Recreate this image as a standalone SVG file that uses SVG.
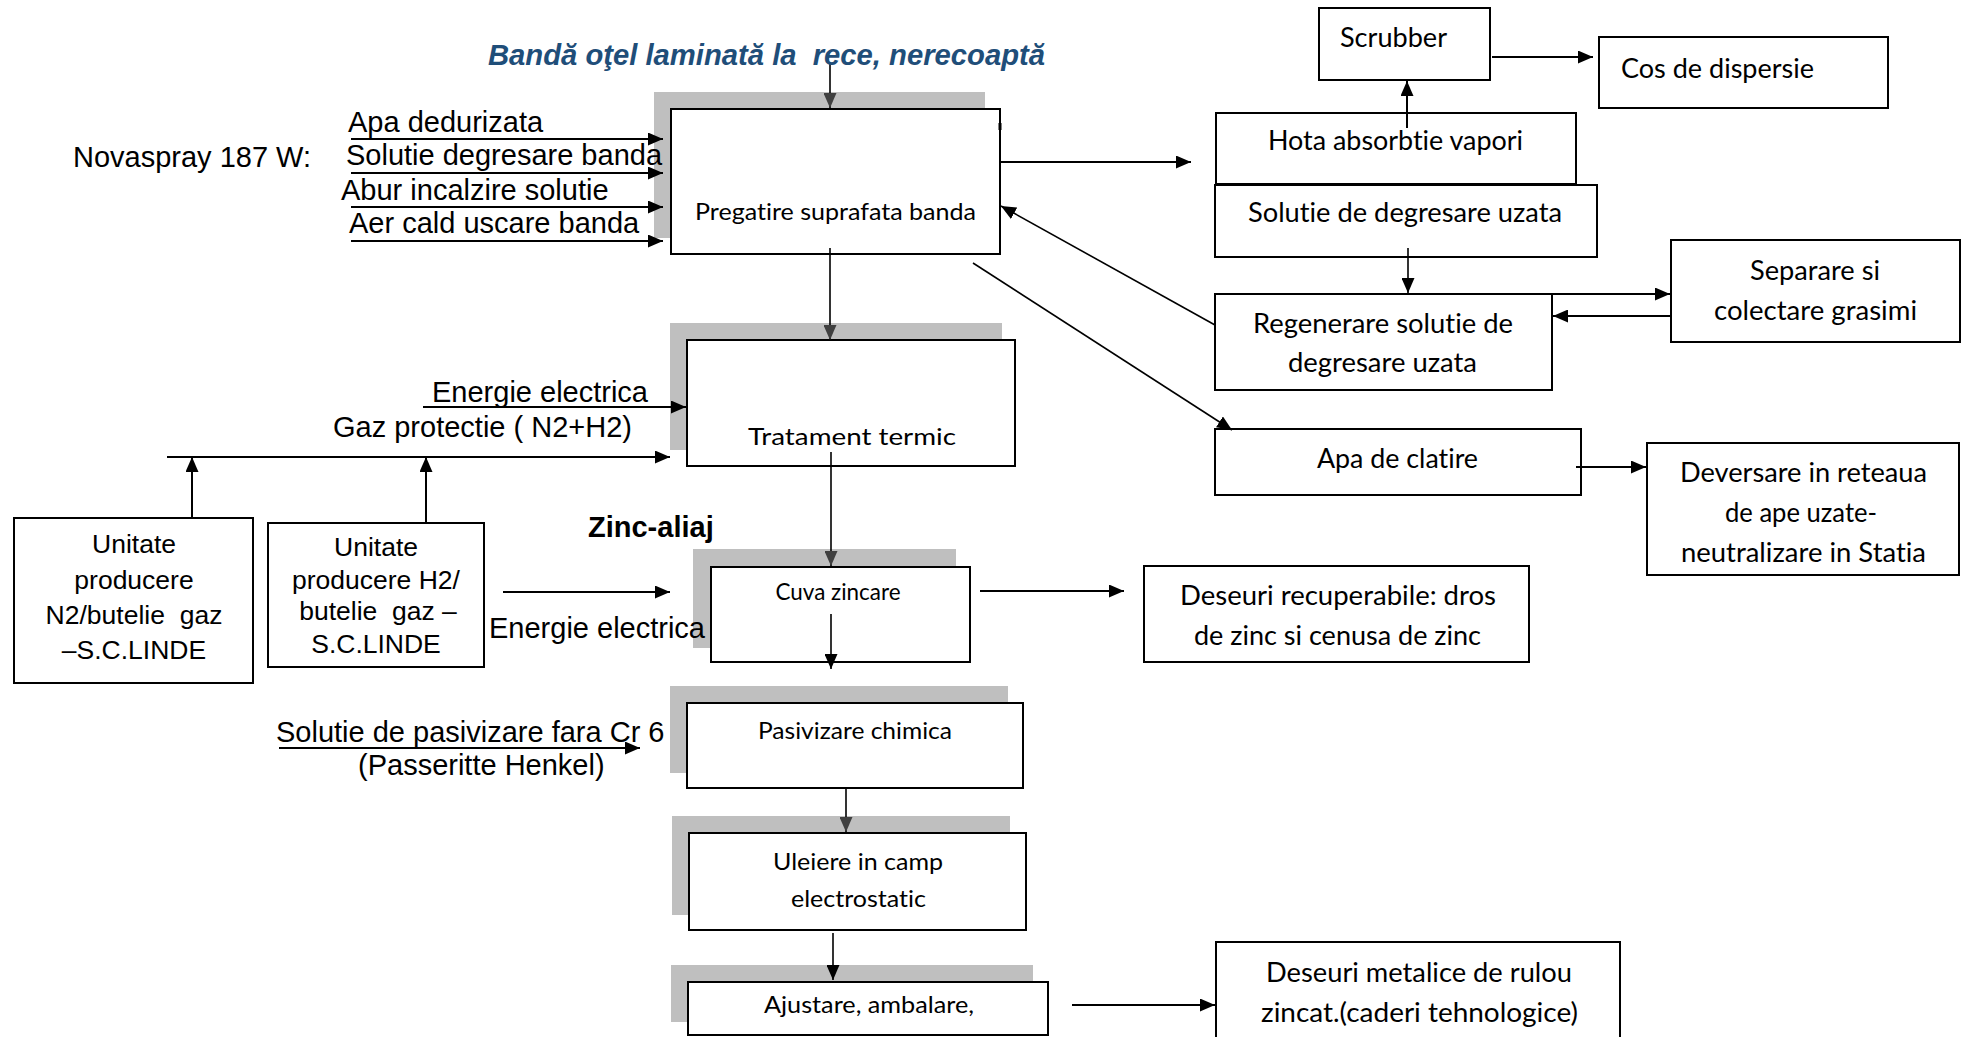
<svg xmlns="http://www.w3.org/2000/svg" width="1968" height="1037" viewBox="0 0 1968 1037">
<style>
  .bg{fill:#ffffff}
  .box{fill:#ffffff;stroke:#000;stroke-width:2}
  .sh{fill:#bfbfbf;stroke:none}
  .ar{font-family:"Liberation Sans",Arial,sans-serif;font-size:29px;fill:#000;white-space:pre}
  .un{font-family:"Liberation Sans",Arial,sans-serif;font-size:26.5px;fill:#000;text-anchor:middle;white-space:pre}
  .cl{font-family:Lato,"Open Sans",sans-serif;font-size:26px;fill:#000;text-anchor:middle;white-space:pre;font-variant-ligatures:none}
  .cs{font-family:Lato,"Open Sans",sans-serif;font-size:24px;fill:#000;text-anchor:middle;white-space:pre;font-variant-ligatures:none}
  .ln{fill:none;stroke:#000;stroke-width:2}
  .pl{fill:none;stroke:#000;stroke-width:1.6}
</style>
<defs>
  <marker id="ah" viewBox="0 0 15 13" refX="15" refY="6.5" markerWidth="15" markerHeight="13" markerUnits="userSpaceOnUse" orient="auto">
    <path d="M0,0 L15,6.5 L0,13 Z" fill="#000"/>
  </marker>
  <marker id="ag" viewBox="0 0 15 13" refX="15" refY="6.5" markerWidth="15" markerHeight="13" markerUnits="userSpaceOnUse" orient="auto">
    <path d="M0,0 L15,6.5 L0,13 Z" fill="#404040"/>
  </marker>
</defs>
<rect class="bg" x="0" y="0" width="1968" height="1037"/>

<!-- process chain -->
<g id="n-pregatire">
  <rect class="sh" x="654" y="92" width="331" height="146"/>
  <rect class="box" x="671" y="109" width="329" height="145"/>
  <line x1="1000" y1="123" x2="1000" y2="130" stroke="#000" stroke-width="3"/>
  <text class="cs" x="835.5" y="220" textLength="281" lengthAdjust="spacingAndGlyphs">Pregatire suprafata banda</text>
</g>
<g id="n-tratament">
  <rect class="sh" x="670" y="323" width="332" height="127"/>
  <rect class="box" x="687" y="340" width="328" height="126"/>
  <text class="cs" x="852" y="445" textLength="208" lengthAdjust="spacingAndGlyphs">Tratament termic</text>
</g>
<g id="n-cuva">
  <rect class="sh" x="693" y="549" width="263" height="99"/>
  <rect class="box" x="711" y="567" width="259" height="95"/>
  <text class="cs" x="838" y="600" textLength="125" lengthAdjust="spacingAndGlyphs">Cuva zincare</text>
</g>
<g id="n-pasivizare">
  <rect class="sh" x="670" y="686" width="338" height="87"/>
  <rect class="box" x="687" y="703" width="336" height="85"/>
  <text class="cs" x="855" y="739" textLength="194" lengthAdjust="spacingAndGlyphs">Pasivizare chimica</text>
</g>
<g id="n-uleiere">
  <rect class="sh" x="672" y="816" width="338" height="99"/>
  <rect class="box" x="689" y="833" width="337" height="97"/>
  <text class="cs" x="858" y="870" textLength="170" lengthAdjust="spacingAndGlyphs">Uleiere in camp</text>
  <text class="cs" x="858.5" y="907" textLength="135" lengthAdjust="spacingAndGlyphs">electrostatic</text>
</g>
<g id="n-ajustare">
  <rect class="sh" x="671" y="965" width="362" height="57"/>
  <rect class="box" x="688" y="982" width="360" height="53"/>
  <text class="cs" x="869" y="1013" textLength="210" lengthAdjust="spacingAndGlyphs">Ajustare, ambalare,</text>
</g>

<!-- suppliers -->
<g id="n-unitate-n2">
  <rect class="box" x="14" y="518" width="239" height="165"/>
  <text class="un" x="134" y="553">Unitate</text>
  <text class="un" x="134" y="589">producere</text>
  <text class="un" x="134" y="624">N2/butelie  gaz</text>
  <text class="un" x="134" y="659">–S.C.LINDE</text>
</g>
<g id="n-unitate-h2">
  <rect class="box" x="268" y="523" width="216" height="144"/>
  <text class="un" x="376" y="556">Unitate</text>
  <text class="un" x="376" y="589">producere H2/</text>
  <text class="un" x="378" y="620">butelie  gaz –</text>
  <text class="un" x="376" y="653">S.C.LINDE</text>
</g>

<!-- right side -->
<g id="n-scrubber">
  <rect class="box" x="1319" y="8" width="171" height="72"/>
  <text class="cl" x="1393.5" y="47" textLength="107" lengthAdjust="spacingAndGlyphs">Scrubber</text>
</g>
<g id="n-cos">
  <rect class="box" x="1599" y="37" width="289" height="71"/>
  <text class="cl" x="1717.5" y="78" textLength="193" lengthAdjust="spacingAndGlyphs">Cos de dispersie</text>
</g>
<g id="n-hota">
  <rect class="box" x="1216" y="113" width="360" height="71"/>
  <text class="cl" x="1395.5" y="150" textLength="255" lengthAdjust="spacingAndGlyphs">Hota absorbtie vapori</text>
</g>
<g id="n-solutie-uzata">
  <rect class="box" x="1215" y="185" width="382" height="72"/>
  <text class="cl" x="1405" y="222" textLength="314" lengthAdjust="spacingAndGlyphs">Solutie de degresare uzata</text>
</g>
<g id="n-regenerare">
  <rect class="box" x="1215" y="294" width="337" height="96"/>
  <text class="cl" x="1383" y="333" textLength="260" lengthAdjust="spacingAndGlyphs">Regenerare solutie de</text>
  <text class="cl" x="1382.5" y="372" textLength="189" lengthAdjust="spacingAndGlyphs">degresare uzata</text>
</g>
<g id="n-separare">
  <rect class="box" x="1671" y="240" width="289" height="102"/>
  <text class="cl" x="1815" y="280" textLength="130" lengthAdjust="spacingAndGlyphs">Separare si</text>
  <text class="cl" x="1815.5" y="320" textLength="203" lengthAdjust="spacingAndGlyphs">colectare grasimi</text>
</g>
<g id="n-apa-clatire">
  <rect class="box" x="1215" y="429" width="366" height="66"/>
  <text class="cl" x="1397.5" y="468" textLength="161" lengthAdjust="spacingAndGlyphs">Apa de clatire</text>
</g>
<g id="n-deversare">
  <rect class="box" x="1647" y="443" width="312" height="132"/>
  <text class="cl" x="1803.5" y="482" textLength="247" lengthAdjust="spacingAndGlyphs">Deversare in reteaua</text>
  <text class="cl" x="1801" y="522" textLength="152" lengthAdjust="spacingAndGlyphs">de ape uzate-</text>
  <text class="cl" x="1803.5" y="562" textLength="245" lengthAdjust="spacingAndGlyphs">neutralizare in Statia</text>
</g>
<g id="n-deseuri-recuperabile">
  <rect class="box" x="1144" y="566" width="385" height="96"/>
  <text class="cl" x="1338" y="605" textLength="316" lengthAdjust="spacingAndGlyphs">Deseuri recuperabile: dros</text>
  <text class="cl" x="1337.5" y="645" textLength="287" lengthAdjust="spacingAndGlyphs">de zinc si cenusa de zinc</text>
</g>
<g id="n-deseuri-metalice">
  <rect class="box" x="1216" y="942" width="404" height="104"/>
  <text class="cl" x="1419" y="982" textLength="306" lengthAdjust="spacingAndGlyphs">Deseuri metalice de rulou</text>
  <text class="cl" x="1419.5" y="1022" textLength="317" lengthAdjust="spacingAndGlyphs">zincat.(caderi tehnologice)</text>
</g>

<!-- connectors -->
<g id="connectors">
  <line class="pl" x1="830" y1="62" x2="830" y2="108" marker-end="url(#ag)"/>
  <line class="pl" x1="830" y1="248" x2="830" y2="340" marker-end="url(#ag)"/>
  <line class="pl" x1="831" y1="452" x2="831" y2="566" marker-end="url(#ag)"/>
  <line class="pl" x1="831" y1="614" x2="831" y2="669" marker-end="url(#ah)"/>
  <line class="pl" x1="846" y1="788" x2="846" y2="832" marker-end="url(#ag)"/>
  <line class="pl" x1="833" y1="933" x2="833" y2="980" marker-end="url(#ah)"/>

  <line class="ln" x1="351" y1="139" x2="663" y2="139" marker-end="url(#ah)"/>
  <line class="ln" x1="351" y1="173" x2="663" y2="173" marker-end="url(#ah)"/>
  <line class="ln" x1="351" y1="207" x2="663" y2="207" marker-end="url(#ah)"/>
  <line class="ln" x1="351" y1="241" x2="663" y2="241" marker-end="url(#ah)"/>

  <line class="ln" x1="423" y1="407" x2="686" y2="407" marker-end="url(#ah)"/>
  <line class="ln" x1="167" y1="457" x2="670" y2="457" marker-end="url(#ah)"/>
  <line class="ln" x1="192" y1="518" x2="192" y2="457" marker-end="url(#ah)"/>
  <line class="ln" x1="426" y1="523" x2="426" y2="457" marker-end="url(#ah)"/>
  <line class="ln" x1="503" y1="592" x2="670" y2="592" marker-end="url(#ah)"/>
  <line class="ln" x1="279" y1="748" x2="640" y2="748" marker-end="url(#ah)"/>

  <line class="ln" x1="1000" y1="162" x2="1191" y2="162" marker-end="url(#ah)"/>
  <line class="ln" x1="1407" y1="128" x2="1407" y2="81" marker-end="url(#ah)"/>
  <line class="ln" x1="1492" y1="57" x2="1593" y2="57" marker-end="url(#ah)"/>
  <line class="pl" x1="1408" y1="248" x2="1408" y2="293" marker-end="url(#ah)"/>
  <line class="ln" x1="1552" y1="294" x2="1670" y2="294" marker-end="url(#ah)"/>
  <line class="ln" x1="1670" y1="316" x2="1553" y2="316" marker-end="url(#ah)"/>
  <line class="pl" x1="1215" y1="325" x2="1001" y2="206" marker-end="url(#ah)"/>
  <line class="pl" x1="973" y1="263" x2="1232" y2="430" marker-end="url(#ah)"/>
  <line class="ln" x1="1576" y1="467" x2="1646" y2="467" marker-end="url(#ah)"/>
  <line class="ln" x1="980" y1="591" x2="1124" y2="591" marker-end="url(#ah)"/>
  <line class="ln" x1="1072" y1="1005" x2="1215" y2="1005" marker-end="url(#ah)"/>
</g>

<!-- free labels (drawn on top of shadows) -->
<g id="labels">
  <text class="ar" x="488" y="65" font-weight="bold" font-style="italic" style="fill:#1f4e79" textLength="557" lengthAdjust="spacingAndGlyphs">Bandă oţel laminată la  rece, nerecoaptă</text>
  <text class="ar" x="73" y="167">Novaspray 187 W:</text>
  <text class="ar" x="348" y="132">Apa dedurizata</text>
  <text class="ar" x="346" y="165">Solutie degresare banda</text>
  <text class="ar" x="341" y="200">Abur incalzire solutie</text>
  <text class="ar" x="349" y="233">Aer cald uscare banda</text>
  <text class="ar" x="432" y="402">Energie electrica</text>
  <text class="ar" x="333" y="437">Gaz protectie ( N2+H2)</text>
  <text class="ar" x="588" y="537" font-weight="bold">Zinc-aliaj</text>
  <text class="ar" x="489" y="638">Energie electrica</text>
  <text class="ar" x="276" y="742">Solutie de pasivizare fara Cr 6</text>
  <text class="ar" x="358" y="775">(Passeritte Henkel)</text>
</g>
</svg>
